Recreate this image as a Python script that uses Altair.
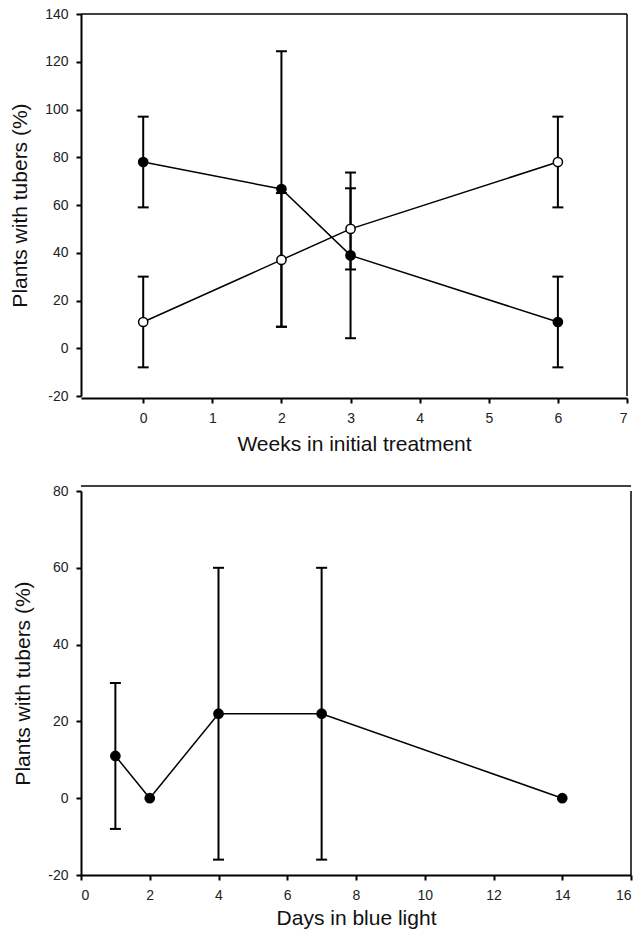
import altair as alt
import pandas as pd

# ---- data: top panel (weeks in initial treatment) ----
weeks = [0, 2, 3, 6]
filled_mean = [78, 66.7, 38.9, 11]
filled_lo = [59, 9, 4.2, -8]
filled_hi = [97, 124.4, 73.6, 30]
open_mean = [11, 37, 50, 78]
open_lo = [-8, 9, 33, 59]
open_hi = [30, 65, 67, 97]

top_x_ticks = [0, 1, 2, 3, 4, 5, 6, 7]
top_y_ticks = [-20, 0, 20, 40, 60, 80, 100, 120, 140]

# ---- data: bottom panel (days in blue light) ----
days = [1, 2, 4, 7, 14]
blue_mean = [11, 0, 22, 22, 0]
blue_lo = [-8, None, -16, -16, None]
blue_hi = [30, None, 60, 60, None]

bot_x_ticks = [0, 2, 4, 6, 8, 10, 12, 14, 16]
bot_y_ticks = [-20, 0, 20, 40, 60, 80]

FONT = "Liberation Sans"
W1, H1 = 546, 382
W2, H2 = 550, 384

df_top = pd.DataFrame({
    "x": weeks + weeks,
    "mean": filled_mean + open_mean,
    "lo": filled_lo + open_lo,
    "hi": filled_hi + open_hi,
    "series": ["filled"] * len(weeks) + ["open"] * len(weeks),
})

df_bot = pd.DataFrame({"x": days, "mean": blue_mean, "lo": blue_lo, "hi": blue_hi,
                       "series": ["filled"] * len(days)})

one = pd.DataFrame({"a": [0]})

LBL = "'' + datum.value"


def panel(df, xdom, ydom, xticks, yticks, xtitle, W, H, xoffset, top_border_y, xtpad):
    xs = alt.Scale(domain=xdom, nice=False, zero=False)
    ys = alt.Scale(domain=ydom, nice=False, zero=False)
    xax = alt.Axis(values=xticks, title=xtitle, offset=xoffset, grid=False,
                   labelExpr=LBL, titlePadding=xtpad)
    yax = alt.Axis(values=yticks, title="Plants with tubers (%)", grid=False,
                   labelExpr=LBL)
    base = alt.Chart(df)
    X = alt.X("x:Q", scale=xs, axis=xax)
    Y = alt.Y("mean:Q", scale=ys, axis=yax)

    lines = base.mark_line(color="black", strokeWidth=1.5).encode(
        x=X, y=Y, detail="series:N")
    errdf = base.transform_filter("isValid(datum.lo)")
    err = errdf.mark_rule(color="black", strokeWidth=2).encode(
        x="x:Q", y="lo:Q", y2="hi:Q")
    cap_hi = errdf.mark_rule(color="black", strokeWidth=2, xOffset=-5.5, x2Offset=5.5).encode(
        x="x:Q", x2="x", y="hi:Q")
    cap_lo = errdf.mark_rule(color="black", strokeWidth=2, xOffset=-5.5, x2Offset=5.5).encode(
        x="x:Q", x2="x", y="lo:Q")
    pts = base.mark_circle(size=85, stroke="black", strokeWidth=1.5, opacity=1).encode(
        x="x:Q", y="mean:Q",
        fill=alt.Fill("series:N", scale=alt.Scale(domain=["filled", "open"],
                                                  range=["black", "white"]), legend=None))
    topb = alt.Chart(one).mark_rule(color="black", strokeWidth=1.5).encode(
        x=alt.value(0), x2=alt.value(W), y=alt.value(top_border_y))
    rightb = alt.Chart(one).mark_rule(color="black", strokeWidth=1.5).encode(
        x=alt.value(W), y=alt.value(0), y2=alt.value(H))
    return alt.layer(lines, err, cap_hi, cap_lo, pts, topb, rightb).properties(width=W, height=H)


top = panel(df_top, [-0.9, 7], [-20, 140], top_x_ticks, top_y_ticks,
            "Weeks in initial treatment", W1, H1, 2, 0, 8)
bot = panel(df_bot, [0, 16], [-20, 80], bot_x_ticks, bot_y_ticks,
            "Days in blue light", W2, H2, 0, -5, 5)

chart = alt.vconcat(top, bot, spacing=30).properties(
    padding={"left": 9, "top": 7, "right": 5, "bottom": 2}
).configure_view(strokeWidth=0).configure_axis(
    domainColor="black", domainWidth=2, tickColor="black", tickWidth=2, tickSize=5,
    labelFont=FONT, labelFontSize=14, labelColor="#222", labelPadding=8,
    titleFont=FONT, titleFontSize=21, titleFontWeight="normal", titleColor="#111"
).configure_axisLeft(titlePadding=14)

chart.save("out.html", embed_options={"renderer": "svg", "actions": False})
